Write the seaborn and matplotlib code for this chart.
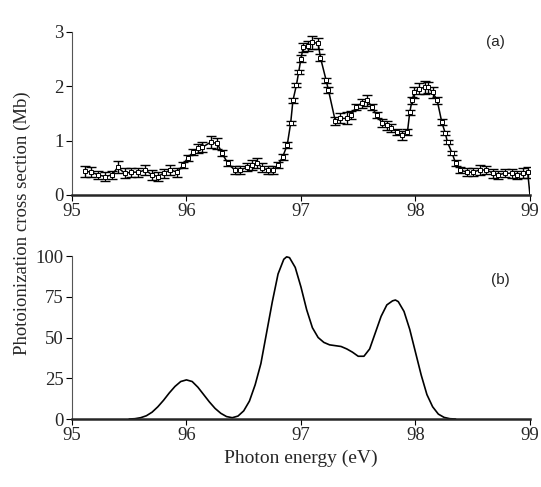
import matplotlib
matplotlib.use("Agg")
import matplotlib.pyplot as plt
import seaborn as sns

# panel (a): measured cross section (Mb) with error bars
energy_a = [95.11, 95.17, 95.23, 95.29, 95.35, 95.40, 95.46, 95.52, 95.58, 95.64,
            95.70, 95.75, 95.80, 95.86, 95.92, 95.97, 96.01, 96.06, 96.10, 96.14,
            96.21, 96.27, 96.31, 96.36, 96.42, 96.47, 96.53, 96.57, 96.62, 96.66,
            96.71, 96.76, 96.80, 96.84, 96.88, 96.91, 96.93, 96.96, 96.98, 97.00,
            97.02, 97.06, 97.10, 97.15, 97.17, 97.22, 97.24, 97.30, 97.34, 97.40,
            97.44, 97.48, 97.53, 97.58, 97.62, 97.66, 97.71, 97.75, 97.79, 97.84,
            97.88, 97.93, 97.95, 97.97, 97.99, 98.03, 98.08, 98.11, 98.15, 98.19,
            98.23, 98.26, 98.28, 98.32, 98.35, 98.39, 98.45, 98.50, 98.56, 98.62,
            98.68, 98.72, 98.78, 98.84, 98.89, 98.94, 98.98]
sigma_a = [0.44, 0.42, 0.37, 0.34, 0.37, 0.51, 0.40, 0.42, 0.42, 0.46,
           0.37, 0.34, 0.40, 0.46, 0.42, 0.55, 0.68, 0.79, 0.86, 0.88,
           0.97, 0.95, 0.77, 0.59, 0.46, 0.46, 0.51, 0.55, 0.59, 0.50,
           0.46, 0.46, 0.55, 0.70, 0.92, 1.32, 1.74, 2.02, 2.26, 2.51,
           2.72, 2.74, 2.81, 2.79, 2.53, 2.11, 1.93, 1.36, 1.41, 1.41,
           1.47, 1.62, 1.69, 1.74, 1.62, 1.47, 1.32, 1.28, 1.23, 1.16,
           1.10, 1.16, 1.52, 1.74, 1.89, 1.96, 1.98, 1.98, 1.89, 1.74,
           1.34, 1.14, 0.97, 0.77, 0.59, 0.46, 0.42, 0.42, 0.46, 0.46,
           0.40, 0.37, 0.40, 0.40, 0.37, 0.40, 0.42]
err_a = [0.10, 0.09, 0.08, 0.08, 0.08, 0.11, 0.09, 0.08, 0.08, 0.10,
         0.09, 0.08, 0.08, 0.09, 0.08, 0.06, 0.06, 0.06, 0.08, 0.09,
         0.11, 0.10, 0.06, 0.06, 0.08, 0.07, 0.07, 0.09, 0.10, 0.08,
         0.08, 0.08, 0.06, 0.06, 0.06, 0.04, 0.04, 0.04, 0.04, 0.06,
         0.08, 0.09, 0.12, 0.10, 0.06, 0.05, 0.05, 0.08, 0.09, 0.11,
         0.08, 0.06, 0.08, 0.10, 0.06, 0.05, 0.07, 0.08, 0.07, 0.06,
         0.08, 0.05, 0.05, 0.06, 0.10, 0.10, 0.12, 0.10, 0.10, 0.06,
         0.05, 0.04, 0.04, 0.04, 0.05, 0.05, 0.07, 0.07, 0.09, 0.08,
         0.08, 0.08, 0.07, 0.08, 0.07, 0.09, 0.10]
edge_energy = 99.0
edge_sigma = 0.0

# panel (b): calculated spectrum (arb. units)
energy_b = [95.50, 95.55, 95.60, 95.65, 95.70, 95.75, 95.80, 95.85, 95.90, 95.95,
            96.00, 96.05, 96.10, 96.15, 96.20, 96.25, 96.30, 96.35, 96.40, 96.45,
            96.50, 96.55, 96.60, 96.65, 96.70, 96.75, 96.80, 96.85, 96.875, 96.90,
            96.95, 97.00, 97.05, 97.10, 97.15, 97.20, 97.25, 97.30, 97.35, 97.40,
            97.45, 97.50, 97.55, 97.60, 97.65, 97.70, 97.75, 97.80, 97.825, 97.85,
            97.90, 97.95, 98.00, 98.05, 98.10, 98.15, 98.20, 98.25, 98.30, 98.35]
signal_b = [0.0, 0.2, 0.8, 2.0, 4.2, 7.5, 11.5, 16.0, 20.0, 23.0,
            24.0, 23.0, 19.5, 15.0, 10.5, 6.5, 3.5, 1.5, 0.8, 1.8,
            5.0, 11.0, 21.0, 34.0, 53.0, 72.0, 89.0, 98.0, 99.5, 99.0,
            93.0, 81.0, 67.0, 56.0, 50.0, 47.0, 45.5, 45.0, 44.5, 43.0,
            41.0, 38.5, 38.5, 43.0, 53.0, 63.0, 70.0, 72.5, 73.0, 72.0,
            66.0, 55.0, 41.0, 27.0, 15.0, 7.5, 3.0, 1.0, 0.2, 0.0]

sns.set_style("ticks")
plt.rcParams['font.family'] = ['Liberation Serif', 'DejaVu Serif']

fig = plt.figure(figsize=(5.41, 4.87), dpi=100)
ax_a = fig.add_axes([0.133, 0.5996, 0.8466, 0.3347])
ax_b = fig.add_axes([0.133, 0.1396, 0.8466, 0.3347])

# (a)
ax_a.errorbar(energy_a, sigma_a, yerr=err_a, fmt='none', ecolor='black',
              elinewidth=1.0, capsize=3.5, capthick=1.0)
sns.lineplot(x=energy_a + [edge_energy], y=sigma_a + [edge_sigma], ax=ax_a,
             color='black', lw=1.1, sort=False)
ax_a.plot(energy_a, sigma_a, ls='none', marker='s', ms=2.6, mfc='white',
          mec='black', mew=0.7)
ax_a.set_xlim(95, 99)
ax_a.set_ylim(0, 3)
ax_a.set_yticks([0, 1, 2, 3])
ax_a.text(0.925, 0.94, "(a)", transform=ax_a.transAxes, fontsize=11,
          family='Liberation Sans', ha='center', va='center')

# (b)
sns.lineplot(x=energy_b, y=signal_b, ax=ax_b, color='black', lw=1.2, sort=False)
ax_b.set_xlim(95, 99)
ax_b.set_ylim(0, 100)
ax_b.set_yticks([0, 25, 50, 75, 100])
ax_b.text(0.935, 0.85, "(b)", transform=ax_b.transAxes, fontsize=11,
          family='Liberation Sans', ha='center', va='center')
ax_b.set_xlabel("Photon energy (eV)", fontsize=14, labelpad=4)

for ax in (ax_a, ax_b):
    sns.despine(ax=ax)
    ax.set_xticks([95, 96, 97, 98, 99])
    ax.spines['left'].set_linewidth(0.8)
    ax.spines['left'].set_color('#555555')
    ax.spines['bottom'].set_linewidth(1.8)
    ax.tick_params(axis='both', labelsize=13.5, length=4, width=0.8,
                   color='black', pad=2)
    ax.set_ylabel("")

fig.text(0.042, 0.542, "Photoionization cross section (Mb)", rotation=90,
         ha='center', va='center', fontsize=13.5)

fig.savefig("out.png", dpi=100)
